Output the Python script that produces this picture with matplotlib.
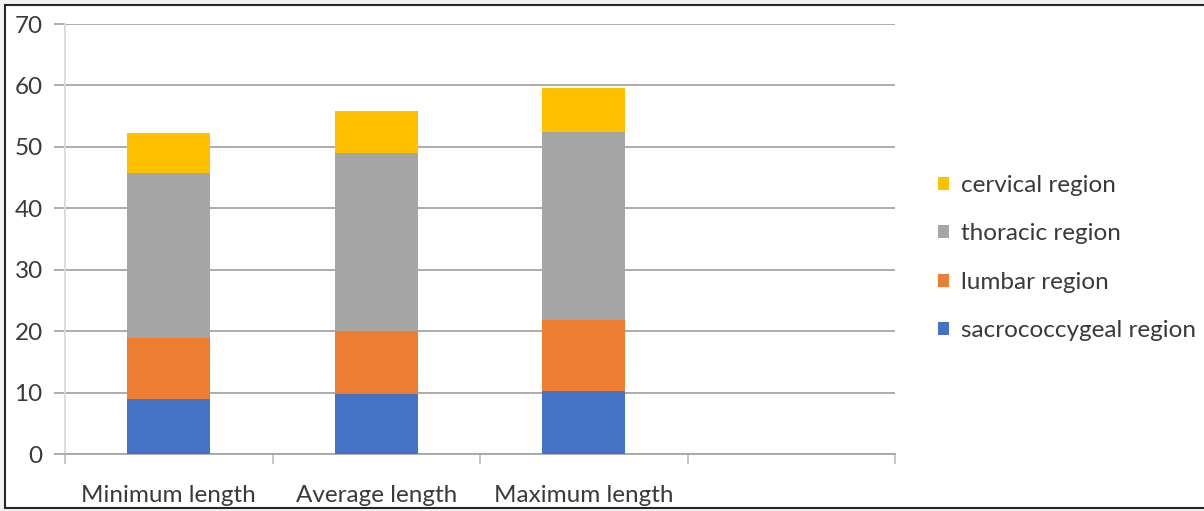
import matplotlib
matplotlib.use('Agg')
import matplotlib.pyplot as plt
from matplotlib.patches import Rectangle
import numpy as np

# Vertebral column length by region (cm)
categories = ['Minimum length', 'Average length', 'Maximum length']
sacrococcygeal = [8.9, 9.7, 10.2]
lumbar = [10.0, 10.3, 11.6]
thoracic = [26.8, 29.0, 30.6]
cervical = [6.6, 6.8, 7.2]

BLUE = '#4472C4'
ORANGE = '#ED7D31'
GRAY = '#A5A5A5'
GOLD = '#FFC000'
TEXT = '#3A3A3A'
GRID = '#A6A6A6'
FS = 17.5

plt.rcParams.update({
    'font.family': ['Lato', 'DejaVu Sans'],
    'font.size': FS,
})

fig = plt.figure(figsize=(12.04, 5.11), dpi=100, facecolor='#F2F2F2')
# white panel with dark frame
fig.patches.append(Rectangle((5 / 1204, 3 / 511), 1.0, 503 / 511, transform=fig.transFigure,
                             facecolor='white', edgecolor='#262626', linewidth=1.5, zorder=-1))

ax = fig.add_axes([65 / 1204, 57 / 511, 830 / 1204, 430 / 511])
ax.set_facecolor('none')
ax.set_zorder(1)

x = np.arange(len(categories))
series = [('sacrococcygeal region', sacrococcygeal, BLUE),
          ('lumbar region', lumbar, ORANGE),
          ('thoracic region', thoracic, GRAY),
          ('cervical region', cervical, GOLD)]
bottom = np.zeros(len(categories))
handles = []
for label, vals, color in series:
    b = ax.bar(x, vals, width=0.4, bottom=bottom, color=color, label=label, zorder=3)
    handles.append(b)
    bottom += np.array(vals)

ax.set_xlim(-0.5, 3.5)
ax.set_ylim(0, 70)
ax.set_yticks(range(0, 71, 10))
ax.yaxis.grid(True, color=GRID, linewidth=1.3, zorder=0)
ax.tick_params(axis='y', length=8, color=GRID, width=1.3, labelcolor=TEXT, labelsize=FS, pad=8)

ax.set_xticks(x)
ax.set_xticklabels(categories)
ax.tick_params(axis='x', length=0, labelcolor=TEXT, labelsize=FS, pad=22)
ax.set_xticks(np.arange(-0.5, 3.6, 1.0), minor=True)
ax.tick_params(axis='x', which='minor', length=7, color='#BFBFBF', width=1.2)

for side in ['top', 'right']:
    ax.spines[side].set_visible(False)
ax.spines['left'].set_color('#D9D9D9')
ax.spines['left'].set_linewidth(1.3)
ax.spines['bottom'].set_color(GRID)
ax.spines['bottom'].set_linewidth(1.3)

fig.legend(handles[::-1], [s[0] for s in series[::-1]],
           loc='center left', bbox_to_anchor=(916 / 1204, 1 - 258 / 511),
           frameon=False, handlelength=0.45, handleheight=0.45, handletextpad=0.5,
           labelspacing=1.13, fontsize=FS, labelcolor=TEXT)

plt.savefig('out.png', dpi=100, facecolor=fig.get_facecolor())
